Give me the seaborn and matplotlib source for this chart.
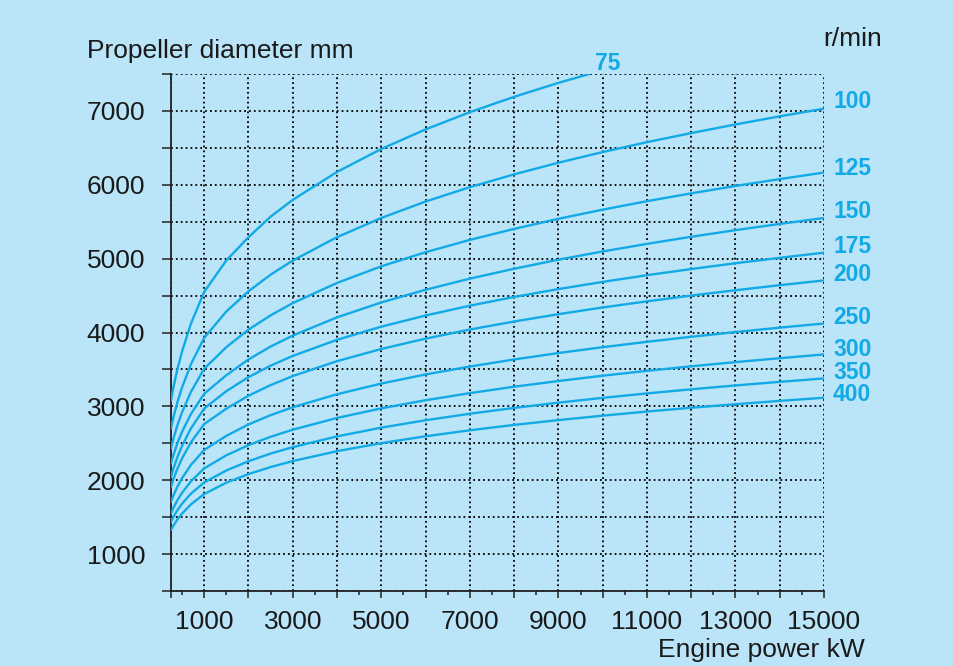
import matplotlib
matplotlib.use("Agg")
import matplotlib.pyplot as plt
import seaborn as sns
import pandas as pd

# ---- data (engine power kW -> propeller diameter mm) ----
power_kw = [250, 300, 400, 500, 700, 1000, 1500, 2000, 2500, 3000, 4000, 5000,
            6000, 7000, 8000, 9000, 10000, 11000, 12000, 13000, 14000, 15000]
power_kw_75 = [250, 300, 400, 500, 700, 1000, 1500, 2000, 2500, 3000, 4000, 5000,
               6000, 7000, 8000, 9000, 9700]

dia_75 = [3080, 3247, 3517, 3744, 4120, 4551, 4976, 5290, 5568, 5796, 6174, 6485,
          6750, 6983, 7191, 7380, 7500]
dia_100 = [2700, 2840, 3067, 3257, 3571, 3928, 4285, 4558, 4783, 4974, 5291, 5551,
           5773, 5968, 6141, 6299, 6443, 6577, 6700, 6817, 6927, 7030]
dia_125 = [2430, 2554, 2754, 2921, 3196, 3510, 3802, 4039, 4232, 4398, 4671, 4896,
           5087, 5254, 5403, 5539, 5663, 5778, 5884, 5984, 6077, 6166]
dia_150 = [2225, 2334, 2510, 2656, 2897, 3170, 3422, 3635, 3810, 3958, 4205, 4407,
           4579, 4729, 4863, 4986, 5097, 5200, 5296, 5386, 5470, 5550]
dia_175 = [2045, 2151, 2322, 2465, 2701, 2970, 3206, 3396, 3551, 3683, 3901, 4079,
           4230, 4363, 4481, 4588, 4685, 4776, 4859, 4938, 5011, 5081]
dia_200 = [1910, 2007, 2164, 2296, 2513, 2760, 2969, 3144, 3288, 3410, 3612, 3777,
           3917, 4040, 4149, 4248, 4339, 4422, 4500, 4572, 4641, 4705]
dia_250 = [1707, 1788, 1919, 2028, 2207, 2410, 2601, 2755, 2881, 2988, 3164, 3309,
           3432, 3539, 3635, 3722, 3801, 3874, 3942, 4006, 4066, 4122]
dia_300 = [1550, 1621, 1735, 1830, 1985, 2160, 2337, 2475, 2588, 2684, 2843, 2973,
           3083, 3179, 3266, 3343, 3415, 3481, 3542, 3599, 3652, 3703]
dia_350 = [1437, 1500, 1600, 1683, 1818, 1970, 2132, 2257, 2361, 2448, 2593, 2712,
           2812, 2900, 2979, 3050, 3115, 3175, 3231, 3283, 3332, 3378]
dia_400 = [1324, 1381, 1473, 1549, 1673, 1813, 1967, 2083, 2178, 2259, 2393, 2502,
           2595, 2676, 2749, 2814, 2874, 2930, 2981, 3029, 3074, 3117]

rpm_labels = ["75", "100", "125", "150", "175", "200", "250", "300", "350", "400"]

x_major = [250] + list(range(1000, 15001, 1000))
x_minor = list(range(500, 15000, 1000))
x_labels = [""] + [str(v) if (v // 1000) % 2 == 1 else "" for v in range(1000, 15001, 1000)]
y_ticks = list(range(500, 7501, 500))
y_labels = [str(v) if v % 1000 == 0 and 1000 <= v <= 7000 else "" for v in y_ticks]

# ---- build long table ----
series = [dia_75, dia_100, dia_125, dia_150, dia_175, dia_200, dia_250, dia_300, dia_350, dia_400]
rows = []
for lab, vals in zip(rpm_labels, series):
    xs = power_kw_75 if lab == "75" else power_kw
    for xv, yv in zip(xs, vals):
        rows.append({"power": xv, "diameter": yv, "rpm": lab})
df = pd.DataFrame(rows)

# ---- style ----
BG = "#bae4f8"
LINE = "#12aae6"
TXT = "#1a1a1a"

sns.set_style("ticks")
plt.rcParams["font.family"] = ["Liberation Sans", "DejaVu Sans"]

fig = plt.figure(figsize=(9.54, 6.66), dpi=100)
fig.patch.set_facecolor(BG)
ax = fig.add_axes([0.17925, 0.11261, 0.68449, 0.77628])
ax.set_facecolor(BG)

sns.lineplot(data=df, x="power", y="diameter", hue="rpm", hue_order=rpm_labels,
             palette=[LINE] * len(rpm_labels), legend=False, sort=False,
             estimator=None, linewidth=1.7, ax=ax, zorder=3)

ax.set_xlim(250, 15000)
ax.set_ylim(500, 7500)

ax.set_xticks(x_major)
ax.set_xticklabels(x_labels)
ax.set_xticks(x_minor, minor=True)
ax.set_yticks(y_ticks)
ax.set_yticklabels(y_labels)

ax.tick_params(axis="x", which="major", length=5.3, width=1.1, color="#222222",
               pad=8.5, labelsize=19, labelcolor=TXT)
ax.tick_params(axis="x", which="minor", length=3, width=1.1, color="#222222")
ax.tick_params(axis="y", which="major", length=6.5, width=1.1, color="#222222",
               pad=12, labelsize=19, labelcolor=TXT)

ax.grid(True, which="major", color="black", linestyle=(0, (1, 1.7)), linewidth=1.3)
ax.set_axisbelow(True)

for s in ["top", "right"]:
    ax.spines[s].set_visible(False)
for s in ["left", "bottom"]:
    ax.spines[s].set_color("#222222")
    ax.spines[s].set_linewidth(1.3)

ax.set_xlabel("")
ax.set_ylabel("")

# curve labels at line ends (pixel offsets of the label baseline from the line end)
label_offsets = {"75": (6, 4), "100": (9, 1), "125": (9, -2), "150": (9, 0),
                 "175": (9, -0.5), "200": (9, -1), "250": (9, -1), "300": (9, -1.5),
                 "350": (9, -0.5), "400": (9, -3.5)}
for lab, vals in zip(rpm_labels, series):
    xs = power_kw_75 if lab == "75" else power_kw
    ax.annotate(lab, xy=(xs[-1], vals[-1]), xytext=label_offsets[lab],
                textcoords="offset pixels", ha="left", va="baseline", color=LINE,
                fontsize=16.5, fontweight="bold", annotation_clip=False)

fig.text(87 / 954, 1 - 58.3 / 666, "Propeller diameter mm", ha="left", va="baseline",
         fontsize=19, color=TXT)
fig.text(823 / 954, 1 - 45.7 / 666, "r/min", ha="left", va="baseline",
         fontsize=19, color=TXT)
fig.text(865 / 954, 1 - 656.7 / 666, "Engine power kW", ha="right", va="baseline",
         fontsize=19, color=TXT)

fig.savefig("out.png", dpi=100, facecolor=BG)
